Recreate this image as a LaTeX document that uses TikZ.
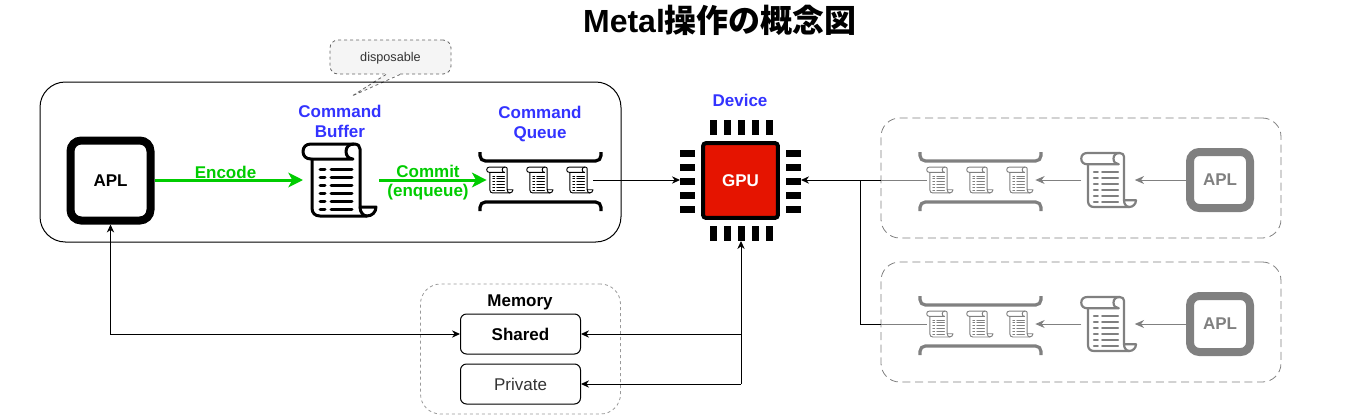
\documentclass[tikz,border=0pt]{standalone}
\usepackage{fontspec}
\setmainfont{Liberation Sans}
\newfontfamily\cjkfont{Noto Sans CJK JP}
\usetikzlibrary{arrows.meta}

\definecolor{titleblue}{HTML}{3333FF}
\definecolor{encodegreen}{HTML}{00CC00}
\definecolor{gpured}{HTML}{E51400}
\definecolor{muted}{HTML}{808080}
\definecolor{memgray}{HTML}{999999}
\definecolor{notegray}{HTML}{666666}
\definecolor{notefill}{HTML}{F5F5F5}

\tikzset{
  scrollicon/.pic={
    \begin{scope}[shift={(-37,-37)},line join=round,line cap=round]
      \draw[fill=white] (9,16) -- (9,65) .. controls (9,70) and (12,73) .. (17,73) -- (64,73)
        .. controls (69,73) and (73,69) .. (73,64) -- (57,64) -- (57,6)
        .. controls (57,3) and (55,1) .. (51,1) -- (8,1)
        .. controls (3,1) and (0,4) .. (0,8.5) .. controls (0,13) and (3,16) .. (8,16) -- cycle;
      \draw (9,16) -- (50,16) .. controls (46,16) and (43,13) .. (43,8.5)
        .. controls (43,4) and (46,1) .. (51,1);
      \draw (57,64) .. controls (57,69) and (60,73) .. (64,73);
      \foreach \y in {26,34,42,50,58,66} {
        \draw (17,\y) -- (22,\y);
        \draw (28,\y) -- (49,\y);
      }
    \end{scope}
    \node[transform shape,minimum size=55.5pt,inner sep=0pt,outer sep=0pt] (-box) at (0,0) {};
  },
  queueicon/.pic={
    \draw[line width=2.4pt,rounded corners=4pt] (-60,-28) -- (-60,-19) -- (61,-19) -- (61,-28);
    \draw[line width=2.4pt,rounded corners=4pt] (-60,31) -- (-60,22) -- (61,22) -- (61,31);
    \pic[scale=.36,line width=.7pt] (-s1) at (-40,0) {scrollicon};
    \pic[scale=.36,line width=.7pt] (-s2) at (0,0) {scrollicon};
    \pic[scale=.36,line width=.7pt] (-s3) at (40,0) {scrollicon};
  },
}

\begin{document}
\begin{tikzpicture}[
  x=.75pt,y=-.75pt,line width=.75pt,
  textfont/.style={font=\fontsize{12.75}{15}\selectfont},
  boldfont/.style={font=\fontsize{12.75}{15}\selectfont\bfseries},
  hostbox/.style={draw,rounded corners=19pt,minimum width=435.75pt,minimum height=120pt,inner sep=0pt},
  otherhost/.style={draw=muted,line width=.6pt,dash pattern=on 6pt off 3.5pt,rounded corners=14pt,
                    minimum width=300pt,minimum height=90pt,inner sep=0pt},
  membox/.style={draw=memgray,line width=.6pt,dash pattern=on 2.25pt off 2.25pt,rounded corners=15pt,
                 minimum width=150pt,minimum height=97.5pt,inner sep=0pt},
  memitem/.style={draw,fill=white,rounded corners=4.5pt,minimum width=90pt,minimum height=30pt,
                  inner sep=0pt,textfont},
  aplbox/.style={draw,fill=white,line width=6pt,rounded corners=8pt,minimum size=60pt,
                 inner sep=0pt,boldfont},
  aplmuted/.style={draw=muted,fill=white,text=muted,line width=6pt,rounded corners=7pt,
                   minimum width=45pt,minimum height=42pt,inner sep=0pt,boldfont},
  chip/.style={draw,fill=gpured,line width=3pt,rounded corners=2pt,minimum size=56pt,
               inner sep=0pt,text=white,boldfont},
  chippinh/.style={fill,minimum width=11.25pt,minimum height=5.25pt,inner sep=0pt,outer sep=0pt},
  chippinv/.style={fill,minimum width=5.25pt,minimum height=11.25pt,inner sep=0pt,outer sep=0pt},
  bluelabel/.style={text=titleblue,align=center,boldfont},
  greenlabel/.style={text=encodegreen,align=center,boldfont},
  arr/.style={-{Stealth[length=6pt,width=5.5pt]}},
  bigarr/.style={-{Stealth[length=11pt,width=11pt,inset=3pt]},encodegreen,line width=2.25pt},
  smallarr/.style={-{Stealth[length=7pt,width=6pt]},muted},
  note/.style={draw=notegray,fill=notefill,line width=.6pt,dash pattern=on 2.25pt off 2.25pt,
               rounded corners=6pt,minimum width=90.75pt,minimum height=25.5pt,inner sep=0pt,
               text depth=0pt,text=black!80,font=\fontsize{9.5}{11}\selectfont},
]
\useasboundingbox (0,0) rectangle (1361,415);

%% ===== Title =================================================================
\node[font=\fontsize{24}{28}\selectfont\bfseries] (title) at (720,20) {Metal{\cjkfont 操作の概念図}};

%% ===== Application group =====================================================
\node[note] (disposable) at (390.5,57) {disposable};
\coordinate (notetip) at (352,96);
\fill[notefill] (386,73) -- (notetip) -- (400,73) -- cycle;
\draw[draw=notegray,line width=.6pt,dash pattern=on 2.25pt off 2.25pt] (386,74.5) -- (notetip) -- (400,74.5);
\node[hostbox] (host) at (330.5,162) {};
\node[aplbox] (apl) at (110.5,180.5) {APL};
\pic[line width=2.25pt] (cb) at (340,180) {scrollicon};
\node[bluelabel] (cblabel) at (340,121) {Command\\Buffer};
\pic (cq) at (540,180) {queueicon};
\node[bluelabel] (cqlabel) at (540,124) {Command\\Queue};

\draw[bigarr] (apl.east |- cb-box.west) -- (cb-box.west);
\node[greenlabel] (encode) at (225.5,172) {Encode};
\draw[bigarr,shorten <=1.5pt] (cb-box.east) -- (cq-s1-box.west);
\node[greenlabel] (commit) at (428,171) {Commit};
\node[greenlabel] (enqueue) at (428,192) {(enqueue)};

%% ===== GPU ===================================================================
\node[chip] (gpu) at (740.5,180.5) {GPU};
\node[bluelabel] (device) at (740,100) {Device};
\foreach \i/\p in {1/153,2/167,3/181,4/195,5/209} {
  \node[chippinh] (pinl\i) at (687.5,\p) {};
  \node[chippinh] (pinr\i) at (793.5,\p) {};
}
\foreach \i/\p in {1/713,2/727,3/741,4/755,5/769} {
  \node[chippinv] (pint\i) at (\p,127.5) {};
  \node[chippinv] (pinb\i) at (\p,233.5) {};
}
\draw[arr] (cq-s3-box.east) -- (cq-s3-box.east -| pinl3.west);

%% ===== Memory ================================================================
\node[membox] (memory) at (520.5,349) {};
\node[boldfont] (memlabel) at (520,302) {Memory};
\node[memitem,font=\fontsize{12.75}{15}\selectfont\bfseries] (shared) at (520.5,334) {Shared};
\node[memitem,text=black!80] (private) at (520.5,384) {Private};

\draw[{Stealth[length=6pt,width=5.5pt]}-{Stealth[length=6pt,width=5.5pt]}] (apl.south) |- (shared.west);
\draw[arr] (pinb3.south |- shared.east) -- (shared.east);
\draw[arr] (pinb3.south |- private.east) -- (private.east);
\draw[arr] (pinb3.south |- private.east) -- (pinb3.south);

%% ===== Other applications ====================================================
\foreach \n/\p in {a/181,b/325} {
  \begin{scope}[color=muted]
    \node[otherhost] (other\n) at (1081,\p-3) {};
    \pic (oq\n) at (980,\p-1) {queueicon};
    \pic[scale=.75,line width=1.65pt] (ob\n) at (1109,\p-1) {scrollicon};
    \node[aplmuted] (oa\n) at (1220,\p-1) {APL};
    \draw[smallarr] (oa\n.west) -- ([xshift=-1.5pt]ob\n-box.east);
    \draw[smallarr] (ob\n-box.west) -- ([xshift=1.5pt]oq\n-s3-box.east);
  \end{scope}
  \draw[muted] (oq\n-s1-box.west) -- (oq\n-s1-box.west -| other\n.west);
}
\coordinate (joint) at (860,180);
\draw[arr] (oqa-s1-box.west -| othera.west) -- (oqa-s1-box.west -| pinr3.east);
\draw (oqb-s1-box.west -| otherb.west) -| (joint);
\end{tikzpicture}
\end{document}
